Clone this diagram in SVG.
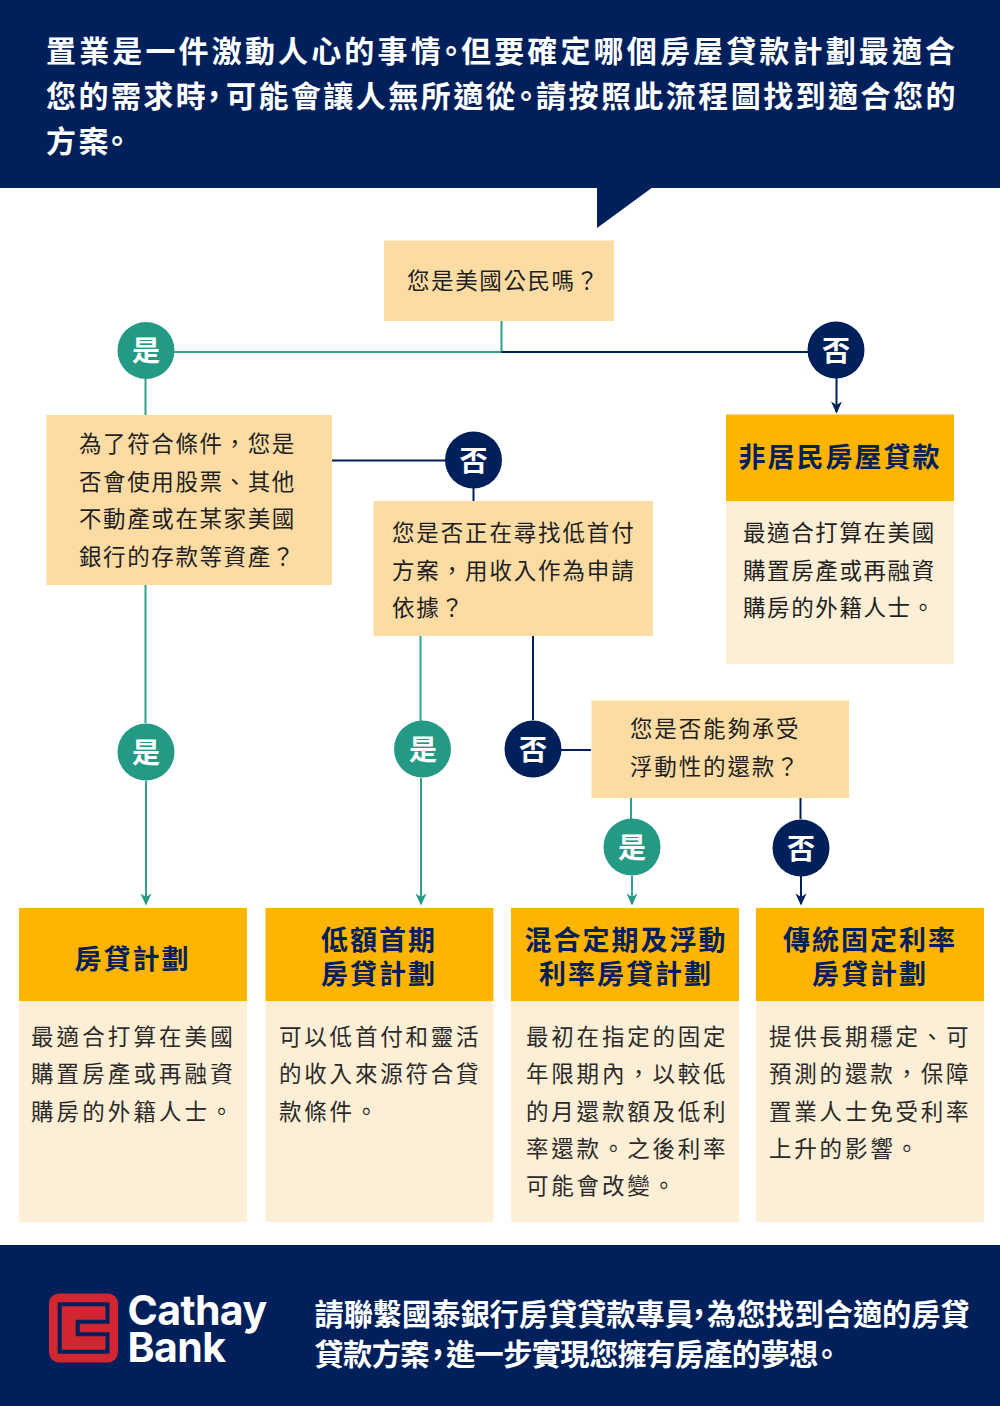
<svg xmlns="http://www.w3.org/2000/svg" width="1000" height="1406" viewBox="0 0 1000 1406">
<style>
text{font-family:"Noto Sans CJK TC","Noto Sans",sans-serif}
.hd{font-size:30px;font-weight:700;fill:#fff}
.ft{font-size:29.200px;font-weight:700;fill:#fff}
.p{font-feature-settings:"halt";letter-spacing:0}
.tg{letter-spacing:-.6px}
.q{font-size:22.500px;fill:#1f1f1f;letter-spacing:1.850px}
.q2{letter-spacing:1.600px}
.b{font-size:22.500px;fill:#2a2a2a;letter-spacing:3.100px}
.b2{letter-spacing:2.800px}
.t{font-size:27px;font-weight:700;fill:#00205b;letter-spacing:2px;text-anchor:middle}
.c{font-size:28px;font-weight:700;fill:#fff;text-anchor:middle}
.lg{font-family:Inter,Roboto,sans-serif;font-size:41px;font-weight:700;fill:#fff;letter-spacing:-.6px}
.qb{fill:#fddca4}.ob{fill:#ffb500}.cb{fill:#fdefd5}
.y{fill:#249a85}.n{fill:#00205b}
.ly{stroke:#2fa08c;stroke-width:2;fill:none}
.ln{stroke:#00205b;stroke-width:2;fill:none}
</style>
<defs>
<marker id="ay" markerUnits="userSpaceOnUse" markerWidth="12" markerHeight="13" refX="6" refY="11" viewBox="0 0 12 13"><path d="M6 12.500L.5 .5 6 4 11.500 .5Z" fill="#249a85"/></marker>
<marker id="an" markerUnits="userSpaceOnUse" markerWidth="12" markerHeight="13" refX="6" refY="11" viewBox="0 0 12 13"><path d="M6 12.500L.5 .5 6 4 11.500 .5Z" fill="#00205b"/></marker>
</defs>
<rect width="1000" height="1406" fill="#fff"/>
<g id="header">
<rect width="1000" height="188" fill="#00205b"/>
<path d="M597 187H653L597 228Z" fill="#00205b"/>
<text class="hd" y="62" letter-spacing="3.150"><tspan x="46">置業是一件激動人心的事情</tspan><tspan class="p" x="443.500">。</tspan><tspan x="461">但要確定哪個房屋貸款計劃最適合</tspan></text>
<text class="hd" y="107" letter-spacing="2.450"><tspan x="46">您的需求時</tspan><tspan class="p" x="206.500">，</tspan><tspan x="226">可能會讓人無所適從</tspan><tspan class="p" x="518.500">。</tspan><tspan x="536">請按照此流程圖找到適合您的</tspan></text>
<text class="hd" y="152" letter-spacing="2.500"><tspan x="46">方案</tspan><tspan class="p" x="109.500">。</tspan></text>
</g>
<g id="connectors">
<path class="ly" d="M501.500 321V352H174M145.500 378V415"/>
<path class="ln" d="M501.500 352H808"/>
<path class="ln" d="M836.500 378V412" marker-end="url(#an)"/>
<path class="ln" d="M332 460.500H446M473.500 488V501"/>
<path class="ly" d="M145.500 585V723"/>
<path class="ly" d="M146 781V904" marker-end="url(#ay)"/>
<path class="ly" d="M420.500 636V721"/>
<path class="ly" d="M421 778V904" marker-end="url(#ay)"/>
<path class="ln" d="M533 636V720M561 750H591"/>
<path class="ly" d="M631 798V819"/>
<path class="ly" d="M632 876V904" marker-end="url(#ay)"/>
<path class="ln" d="M800.500 798V819"/>
<path class="ln" d="M801 876V904" marker-end="url(#an)"/>
</g>
<g id="q-citizen"><rect class="qb" x="384" y="240.500" width="230" height="80.500"/><text class="q q2" x="407" y="289">您是美國公民嗎？</text></g>
<g id="yes-1"><circle class="y" cx="146" cy="350.500" r="28.500"/><text class="c" x="146" y="361">是</text></g>
<g id="no-1"><circle class="n" cx="836" cy="350" r="28.500"/><text class="c" x="836" y="361">否</text></g>
<g id="q-assets"><rect class="qb" x="46.500" y="415" width="285.500" height="170"/>
<text class="q q2" y="452"><tspan x="79">為了符合條件，您是</tspan><tspan x="79" dy="37.500">否會使用股票、其他</tspan><tspan x="79" dy="37.500">不動產或在某家美國</tspan><tspan x="79" dy="37.500">銀行的存款等資產？</tspan></text></g>
<g id="no-2"><circle class="n" cx="473.500" cy="460" r="28.500"/><text class="c" x="473.500" y="471">否</text></g>
<g id="q-lowdown"><rect class="qb" x="373.500" y="501" width="279.500" height="135"/>
<text class="q" y="541"><tspan x="392">您是否正在尋找低首付</tspan><tspan x="392" dy="37.500">方案，用收入作為申請</tspan><tspan x="392" dy="37.500">依據？</tspan></text></g>
<g id="nonresident"><rect class="ob" x="726" y="414.500" width="228" height="86.500"/><rect class="cb" x="726" y="501" width="228" height="163"/>
<text class="t" x="840" y="467">非居民房屋貸款</text>
<text class="q q2" y="541"><tspan x="743">最適合打算在美國</tspan><tspan x="743" dy="37.500">購置房產或再融資</tspan><tspan x="743" dy="37.500">購房的外籍人士。</tspan></text></g>
<g id="yes-2"><circle class="y" cx="146" cy="752" r="28.500"/><text class="c" x="146" y="762.500">是</text></g>
<g id="yes-3"><circle class="y" cx="422.500" cy="749" r="28.500"/><text class="c" x="423" y="759.500">是</text></g>
<g id="no-3"><circle class="n" cx="533" cy="749" r="28.500"/><text class="c" x="533" y="759.500">否</text></g>
<g id="q-float"><rect class="qb" x="591.500" y="700.500" width="257.500" height="97.500"/>
<text class="q" y="737"><tspan x="630">您是否能夠承受</tspan><tspan x="630" dy="37.500">浮動性的還款？</tspan></text></g>
<g id="yes-4"><circle class="y" cx="632" cy="847" r="28.500"/><text class="c" x="632" y="857.500">是</text></g>
<g id="no-4"><circle class="n" cx="801" cy="848" r="28.500"/><text class="c" x="801" y="859">否</text></g>
<g id="plan-1"><rect class="ob" x="19" y="908" width="228" height="93"/><rect class="cb" x="19" y="1001" width="228" height="221"/>
<text class="t" x="132.500" y="969">房貸計劃</text>
<text class="b" y="1045"><tspan x="31">最適合打算在美國</tspan><tspan x="31" dy="37.250">購置房產或再融資</tspan><tspan x="31" dy="37.250">購房的外籍人士。</tspan></text></g>
<g id="plan-2"><rect class="ob" x="265.500" y="908" width="228" height="93"/><rect class="cb" x="265.500" y="1001" width="228" height="221"/>
<text class="t" y="950"><tspan x="379">低額首期</tspan><tspan x="379" dy="34">房貸計劃</tspan></text>
<text class="b b2" y="1045"><tspan x="279">可以低首付和靈活</tspan><tspan x="279" dy="37.250">的收入來源符合貸</tspan><tspan x="279" dy="37.250">款條件。</tspan></text></g>
<g id="plan-3"><rect class="ob" x="511" y="908" width="228" height="93"/><rect class="cb" x="511" y="1001" width="228" height="221"/>
<text class="t" y="950"><tspan x="626">混合定期及浮動</tspan><tspan x="626" dy="34">利率房貸計劃</tspan></text>
<text class="b b2" y="1045"><tspan x="526">最初在指定的固定</tspan><tspan x="526" dy="37.250">年限期內，以較低</tspan><tspan x="526" dy="37.250">的月還款額及低利</tspan><tspan x="526" dy="37.250">率還款。之後利率</tspan><tspan x="526" dy="37.250">可能會改變。</tspan></text></g>
<g id="plan-4"><rect class="ob" x="756" y="908" width="228" height="93"/><rect class="cb" x="756" y="1001" width="228" height="221"/>
<text class="t" y="950"><tspan x="870">傳統固定利率</tspan><tspan x="870" dy="34">房貸計劃</tspan></text>
<text class="b b2" y="1045"><tspan x="769">提供長期穩定、可</tspan><tspan x="769" dy="37.250">預測的還款，保障</tspan><tspan x="769" dy="37.250">置業人士免受利率</tspan><tspan x="769" dy="37.250">上升的影響。</tspan></text></g>
<g id="footer">
<rect y="1245" width="1000" height="161" fill="#00205b"/>
<rect x="49" y="1293.500" width="69" height="69" rx="10" fill="#d22630"/>
<path d="M107.500 1321.700V1304.300H59.700V1351.700H107.500V1334.300H77.700V1321.700Z" fill="none" stroke="#00205b" stroke-width="4"/>
<text class="lg" y="1325"><tspan x="127.500">Cathay</tspan><tspan x="127.500" dy="37">Bank</tspan></text>
<text class="ft" y="1325"><tspan x="314.500">請聯繫國泰銀行房貸貸款專員</tspan><tspan class="p" x="691.500">，</tspan><tspan x="707">為您找到合適的房貸</tspan></text>
<text class="ft" y="1365"><tspan class="tg" x="314.500">貸款方案</tspan><tspan class="p" x="430.500">，</tspan><tspan class="tg" x="446">進一步實現您擁有房產的夢想</tspan><tspan class="p" x="819.500">。</tspan></text>
</g>
</svg>
